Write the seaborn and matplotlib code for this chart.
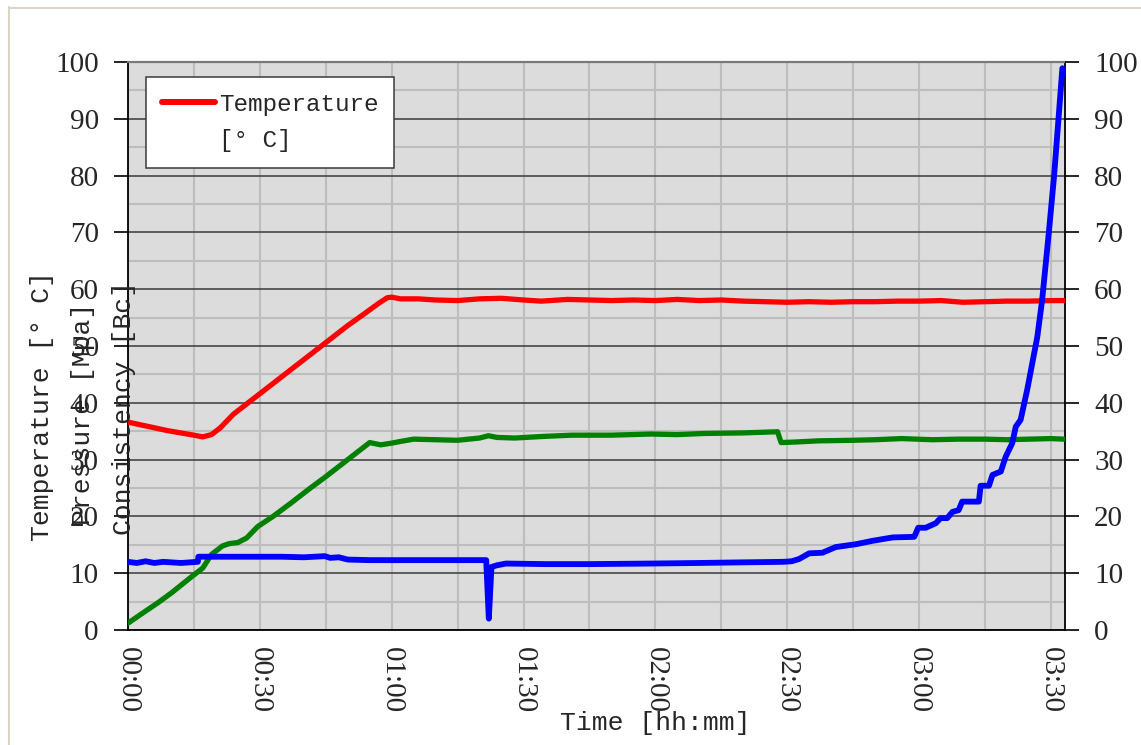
import matplotlib
matplotlib.use("Agg")
import matplotlib.pyplot as plt
import seaborn as sns
from matplotlib.lines import Line2D
from matplotlib.ticker import MultipleLocator, FixedLocator, FuncFormatter

# Temperature [°C] over time [min]
temp_t = [0, 3, 6, 9, 12, 15, 17, 19, 21, 24, 28, 32, 36, 40, 45, 50, 54, 57, 59, 60,
          62, 66, 70, 75, 80, 85, 90, 94, 100, 105, 110, 115, 120, 125, 130, 135, 140,
          145, 150, 155, 160, 165, 170, 175, 180, 185, 190, 195, 200, 205, 210, 213]
temp_v = [36.6, 36.1, 35.6, 35.1, 34.7, 34.3, 34.0, 34.4, 35.6, 38.0, 40.4, 42.8, 45.2,
          47.6, 50.6, 53.6, 55.8, 57.5, 58.5, 58.6, 58.3, 58.3, 58.1, 58.0, 58.3, 58.4,
          58.1, 57.9, 58.2, 58.1, 58.0, 58.1, 58.0, 58.2, 58.0, 58.1, 57.9, 57.8, 57.7,
          57.8, 57.7, 57.8, 57.8, 57.9, 57.9, 58.0, 57.7, 57.8, 57.9, 57.9, 58.0, 58.0]

# Consistency [Bc] over time [min]
cons_t = [0, 3, 7, 10, 14.5, 17, 19, 21.5, 23, 25, 27, 29.5, 33, 37, 41, 45, 49, 52, 55,
          57.5, 60, 62, 65, 70, 75, 80, 82, 84, 88, 95, 101, 110, 119, 125, 131, 140,
          147.8, 148.6, 152, 157, 165, 170, 176, 183, 189, 195, 200, 205, 210, 213]
cons_v = [1.2, 2.8, 4.9, 6.6, 9.4, 10.9, 13.3, 14.8, 15.2, 15.4, 16.2, 18.2, 20.0, 22.3,
          24.7, 27.0, 29.4, 31.2, 33.0, 32.6, 32.9, 33.2, 33.6, 33.5, 33.4, 33.8, 34.2,
          33.9, 33.8, 34.1, 34.3, 34.3, 34.5, 34.4, 34.6, 34.7, 34.9, 33.0, 33.1, 33.3,
          33.4, 33.5, 33.7, 33.5, 33.6, 33.6, 33.5, 33.6, 33.7, 33.6]

# Pressure [Mpa] over time [min]
pres_t = [0, 2, 4, 6, 8, 10, 12, 14, 15.9, 16.0, 20, 25, 30, 35, 40, 44.8, 46, 48, 50, 55,
          60, 65, 70, 75, 81.5, 82.1, 82.7, 84, 86, 95, 105, 119, 130, 139, 149, 151,
          152.7, 155, 158, 161, 165.6, 169.4, 174, 178.9, 179.8, 181.5, 183.8, 184.9,
          186.4, 187.6, 189, 189.8, 193.6, 194, 195.9, 196.7, 198.6, 199.7, 201.2, 202,
          203.1, 204.6, 206.9, 208, 209.5, 210.7, 211.7, 212.6]
pres_v = [12.0, 11.8, 12.1, 11.8, 12.0, 11.9, 11.8, 11.9, 12.0, 12.9, 12.9, 12.9, 12.9,
          12.9, 12.8, 13.0, 12.7, 12.8, 12.4, 12.3, 12.3, 12.3, 12.3, 12.3, 12.3, 2.0,
          11.1, 11.4, 11.7, 11.6, 11.6, 11.7, 11.8, 11.9, 12.0, 12.1, 12.5, 13.5, 13.6,
          14.6, 15.1, 15.7, 16.3, 16.4, 18.0, 18.0, 18.8, 19.7, 19.7, 20.8, 21.1, 22.6,
          22.6, 25.4, 25.4, 27.3, 27.9, 30.5, 32.9, 35.8, 37.0, 42.3, 51.6, 58.1, 69.8,
          79.8, 89.8, 98.9]

x_ticks = [0, 30, 60, 90, 120, 150, 180, 210]
y_ticks = [0, 10, 20, 30, 40, 50, 60, 70, 80, 90, 100]

sns.set_style("white")
plt.rcParams['font.family'] = ['Liberation Serif', 'DejaVu Serif']
mono = ['Liberation Mono', 'DejaVu Sans Mono']

W, H = 1141, 745
fig = plt.figure(figsize=(W / 100, H / 100), dpi=100)
ax = fig.add_axes([128 / W, 115 / H, 937 / W, 568 / H])
ax.set_facecolor('#DCDCDC')

# light frame around the chart
fig.add_artist(Line2D([8.5 / W, 8.5 / W], [0, 1 - 7 / H], color='#D8D5C4', lw=1.5))
fig.add_artist(Line2D([8.5 / W, 1], [1 - 7.5 / H, 1 - 7.5 / H], color='#D8D5C4', lw=1.5))

sns.lineplot(x=temp_t, y=temp_v, ax=ax, color='#FF0000', lw=3.8, estimator=None,
             sort=False, zorder=3)
sns.lineplot(x=cons_t, y=cons_v, ax=ax, color='#008000', lw=3.8, estimator=None,
             sort=False, zorder=4)
sns.lineplot(x=pres_t, y=pres_v, ax=ax, color='#0000FF', lw=4.2, estimator=None,
             sort=False, zorder=5)

ax.set_xlim(0, 213.2)
ax.set_ylim(0, 100)

ax.xaxis.set_major_locator(FixedLocator(x_ticks))
ax.xaxis.set_minor_locator(MultipleLocator(15))
ax.yaxis.set_major_locator(FixedLocator(y_ticks))
ax.yaxis.set_minor_locator(MultipleLocator(5))
ax.xaxis.set_major_formatter(FuncFormatter(lambda m, p: f"{int(m) // 60:02d}:{int(m) % 60:02d}"))

ax.set_axisbelow(True)
ax.grid(True, axis='x', which='both', color='#BDBDBD', lw=1.5)
ax.grid(True, axis='y', which='minor', color='#BDBDBD', lw=1.5)
ax.grid(True, axis='y', which='major', color='#3A3A3A', lw=1.1)

ax.tick_params(axis='x', which='major', direction='in', length=8, width=1.2,
               labelsize=21, pad=12, labelrotation=-90, color='black')
ax.tick_params(axis='x', which='minor', length=0)
ax.tick_params(axis='y', which='major', direction='out', length=10, width=1.2,
               labelsize=21, pad=11, color='black', left=True)
ax.tick_params(axis='y', which='minor', length=0)

for side in ('left', 'right', 'bottom'):
    ax.spines[side].set_color('black')
    ax.spines[side].set_linewidth(1.3)
ax.spines['top'].set_color('#7A7A7A')
ax.spines['top'].set_linewidth(1.6)
ax.set_xlabel('')
ax.set_ylabel('')

ax2 = ax.twinx()
ax2.set_ylim(0, 100)
ax2.yaxis.set_major_locator(FixedLocator(y_ticks))
ax2.tick_params(axis='y', direction='out', length=10, width=1.2, labelsize=21, pad=11,
                color='black', right=True)
for s in ax2.spines.values():
    s.set_visible(False)
ax2.grid(False)

handles = [Line2D([], [], color='#FF0000', lw=4.3), Line2D([], [], color='none')]
leg = ax.legend(handles, ['Temperature', '[° C]'], loc='upper left',
                bbox_to_anchor=(18 / 937, 1 - 15 / 568), borderaxespad=0,
                prop={'family': mono, 'size': 17.5}, frameon=True, fancybox=False,
                framealpha=1, facecolor='white', edgecolor='#3A3A3A',
                handlelength=2.2, handletextpad=0.15, labelspacing=0.55, borderpad=0.65)
leg.get_frame().set_linewidth(1.1)
leg.set_zorder(10)

fig.text(42 / W, 1 - 406 / H, 'Temperature [° C]', rotation=90, ha='center', va='center',
         family=mono, fontsize=19)
fig.text(83 / W, 1 - 414 / H, 'Pressure [Mpa]', rotation=90, ha='center', va='center',
         family=mono, fontsize=19)
fig.text(124 / W, 1 - 408 / H, 'Consistency [Bc]', rotation=90, ha='center', va='center',
         family=mono, fontsize=19)
fig.text(655 / W, 1 - 723 / H, 'Time [hh:mm]', ha='center', va='center',
         family=mono, fontsize=19)

fig.savefig('out.png', dpi=100, facecolor='white')
